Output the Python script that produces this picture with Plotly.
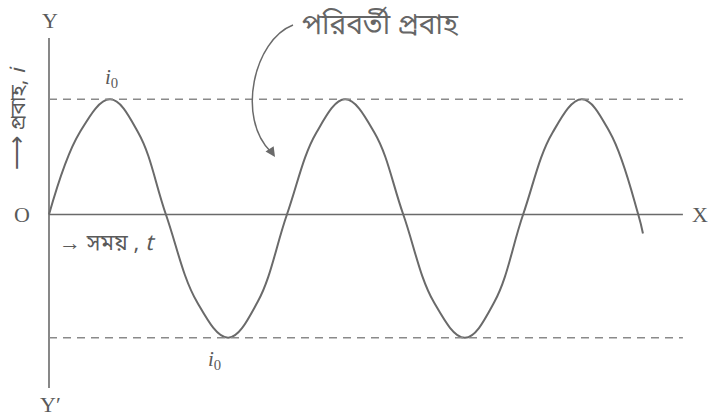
import plotly.graph_objects as go

# ---- data ----
# time (arbitrary units, origin at O) and current (units of i0)
t_points = [0, 0.52, 1.04, 1.52, 1.99, 2.52, 3.05, 3.55, 4.05, 4.55, 5.04, 5.54,
            6.03, 6.55, 7.08, 7.58, 8.07, 8.57, 9.07, 9.55, 10.03, 10.11]
i_points = [0, 0.71, 1.0, 0.71, 0, -0.76, -1.07, -0.76, 0, 0.71, 1.0, 0.71,
            0, -0.76, -1.07, -0.76, 0, 0.71, 1.0, 0.71, 0, -0.165]
i0_top = 1.0
i0_bottom = -1.07
t_axis_end = 10.79

W, H = 712, 420
X0_PX, Y0_PX = 49, 214.5       # pixel position of origin O
PX_PER_T, PX_PER_I = 58.75, 115.2


def px2paper(px, py):
    return px / W, 1 - py / H


GRAY = "#6a6a6a"
TXT = "#5a5a5a"
SERIF = "Liberation Serif, DejaVu Serif, serif"
BN = "Noto Sans Bengali, Noto Serif Bengali, Lohit Bengali, Vrinda, sans-serif"

fig = go.Figure()

# sinusoidal current
fig.add_trace(go.Scatter(
    x=t_points, y=i_points, mode="lines",
    line=dict(color=GRAY, width=2, shape="spline", smoothing=1.1),
    hoverinfo="skip", showlegend=False,
))

xr = [(0 - X0_PX) / PX_PER_T, (W - X0_PX) / PX_PER_T]
yr = [(Y0_PX - H) / PX_PER_I, (Y0_PX - 0) / PX_PER_I]

shapes = []
# X axis
shapes.append(dict(type="line", x0=0, x1=t_axis_end, y0=0, y1=0,
                   xref="x", yref="y", line=dict(color=GRAY, width=1.6)))
# Y axis (Y to Y')
shapes.append(dict(type="line", x0=0, x1=0,
                   y0=(Y0_PX - 38) / PX_PER_I, y1=(Y0_PX - 388) / PX_PER_I,
                   xref="x", yref="y", line=dict(color=GRAY, width=1.6)))
# dashed peak lines
for yv in (i0_top, i0_bottom):
    shapes.append(dict(type="line", x0=0, x1=t_axis_end, y0=yv, y1=yv,
                       xref="x", yref="y",
                       line=dict(color="#8a8a8a", width=1.6, dash="8px,6px")))
# curved pointer arrow
p0 = px2paper(293, 25)
c1 = px2paper(254, 40)
c2 = px2paper(236, 118)
p3 = px2paper(271, 152)
shapes.append(dict(
    type="path", xref="paper", yref="paper",
    path=f"M {p0[0]},{p0[1]} C {c1[0]},{c1[1]} {c2[0]},{c2[1]} {p3[0]},{p3[1]}",
    line=dict(color=GRAY, width=1.5),
))

annotations = []


def label(text, px, py, size=18, font=SERIF, angle=0, xanchor="center", color=TXT):
    x, y = px2paper(px, py)
    annotations.append(dict(text=text, x=x, y=y, xref="paper", yref="paper",
                            showarrow=False, xanchor=xanchor, yanchor="middle",
                            textangle=angle, font=dict(family=font, size=size, color=color)))


label("Y", 50, 20, size=22)
label("Y′", 50, 404, size=22)
label("O", 22, 215, size=22)
label("X", 700, 215, size=22)
label("<i>i</i><sub>0</sub>", 111, 78, size=21)
label("<i>i</i><sub>0</sub>", 214, 360, size=21)
label("→ সময় , <i>t</i>", 57, 244, size=22, font=BN, xanchor="left")
label("<span style='font-size:24px'>⟶</span> প্রবাহ, <i>i</i>", 19, 118, size=21, font=BN, angle=-90)
label("পরিবর্তী প্রবাহ", 300, 25, size=28, font=BN, xanchor="left", color="#666666")

# arrowhead of the curved pointer
tip = px2paper(275, 157)
annotations.append(dict(text="", x=tip[0], y=tip[1], xref="paper", yref="paper",
                        showarrow=True, arrowhead=2, arrowsize=1.3, arrowwidth=1.5,
                        arrowcolor=GRAY, ax=-6, ay=-9))

fig.update_layout(
    width=W, height=H,
    margin=dict(l=0, r=0, t=0, b=0),
    paper_bgcolor="white", plot_bgcolor="white",
    xaxis=dict(range=xr, visible=False, fixedrange=True),
    yaxis=dict(range=yr, visible=False, fixedrange=True),
    shapes=shapes, annotations=annotations,
    showlegend=False, hovermode=False,
)

fig.write_html("out.html", config={"displayModeBar": False},
               post_script="document.body.style.margin='0';")
